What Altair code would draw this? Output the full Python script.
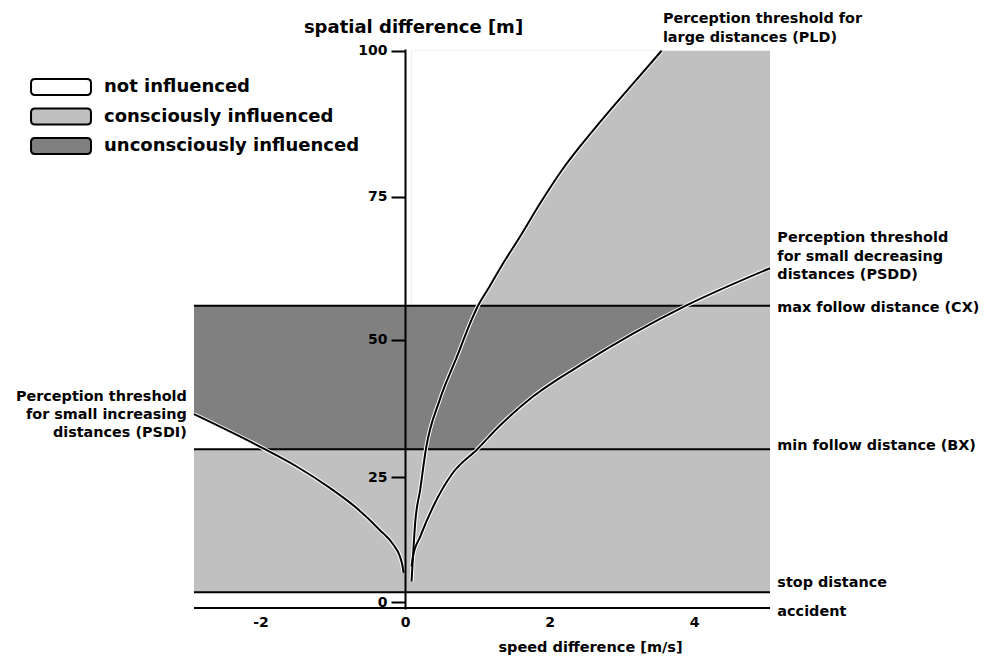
import altair as alt
import pandas as pd

# ---- values (x: speed difference [m/s], y: spatial difference [m]) ----
X_MIN, X_MAX = -2.92, 5.05
Y_MIN, Y_MAX = -1.6, 100.3

CX = 56.0        # max follow distance
BX = 30.2        # min follow distance
STOP = 2.4       # stop distance
ACCIDENT = -1.4  # accident
TOP = 100.0

pld_x = [0.09, 0.11, 0.14, 0.21, 0.29, 0.48, 0.72, 0.92, 1.01, 1.17, 1.36, 1.59, 1.87, 2.17, 2.64, 3.11, 3.55]
pld_y = [4.7, 9.8, 16.3, 22.7, 30.3, 39.2, 47.0, 53.5, 56.0, 59.4, 63.5, 68.1, 73.9, 79.6, 87.0, 93.8, 100.0]

psdd_x = [0.09, 0.11, 0.21, 0.39, 0.65, 1.00, 1.31, 1.77, 2.47, 3.16, 3.90, 5.05]
psdd_y = [7.8, 9.8, 13.7, 19.5, 25.6, 30.2, 34.5, 39.8, 45.8, 51.1, 56.1, 62.6]

psdi_x = [-2.92, -1.94, -1.50, -1.04, -0.67, -0.35, -0.16, -0.07, -0.03, -0.02]
psdi_y = [36.6, 30.2, 27.0, 23.0, 19.2, 15.0, 12.1, 9.8, 7.5, 6.5]

categories = ["not influenced", "consciously influenced", "unconsciously influenced"]
cat_colors = ["#ffffff", "#c0c0c0", "#808080"]
NOT, CON, UNC = categories

x_ticks = [-2, 0, 2, 4]
y_ticks = [0, 25, 50, 75, 100]

line_names = ["max follow distance (CX)", "min follow distance (BX)", "stop distance", "accident"]
line_values = [CX, BX, STOP, ACCIDENT]

right_texts = [
    ["Perception threshold for", "large distances (PLD)"],
    ["Perception threshold", "for small decreasing", "distances (PSDD)"],
    ["max follow distance (CX)"],
    ["min follow distance (BX)"],
    ["stop distance"],
    ["accident"],
]
right_text_x = [3.568, 5.152, 5.152, 5.152, 5.152, 5.152]
right_text_y = [105.3, 67.8, 55.6, 30.7, 4.4, -2.35]

left_texts = [["Perception threshold", "for small increasing", "distances (PSDI)"]]
left_text_x = [-3.02]
left_text_y = [39.8]

# ---- region tables (painted in order, later ones on top) ----
def region(name, cat, xs, lo, hi):
    n = len(xs)
    lo = lo if isinstance(lo, list) else [lo] * n
    hi = hi if isinstance(hi, list) else [hi] * n
    return pd.DataFrame({"region": name, "cat": cat, "x": xs, "lo": lo, "hi": hi})

n_dark = sum(1 for v in psdd_x if v <= 3.9)  # PSDD part that lies below CX

paint_steps = [
    pd.concat([
        region("upper_right", CON, [pld_x[0], X_MAX], CX, TOP),
        region("left_band", UNC, [X_MIN, 0.0], BX, CX),
    ], ignore_index=True),
    pd.concat([
        region("left_of_pld", NOT, pld_x, pld_y, TOP),
        region("below_psdi", NOT, psdi_x, BX, psdi_y),
    ], ignore_index=True),
    pd.concat([
        region("right_low", CON, [0.0, X_MAX], STOP, CX),
        region("left_low", CON, [X_MIN, 0.0], STOP, BX),
    ], ignore_index=True),
    pd.concat([
        region("right_band", UNC, [0.0, 1.0], BX, CX),
        region("above_psdd", UNC, psdd_x[:n_dark], psdd_y[:n_dark], CX),
    ], ignore_index=True),
    region("right_bottom", CON, [0.0, X_MAX], STOP, BX),
]

curves = pd.concat([
    pd.DataFrame({"curve": "PLD", "x": pld_x, "y": pld_y}),
    pd.DataFrame({"curve": "PSDD", "x": psdd_x, "y": psdd_y}),
    pd.DataFrame({"curve": "PSDI", "x": psdi_x, "y": psdi_y}),
], ignore_index=True)

rules = pd.DataFrame({"name": line_names, "y": line_values, "x": X_MIN, "x2": X_MAX})
rtext = pd.DataFrame({"lines": right_texts, "x": right_text_x, "y": right_text_y})
ltext = pd.DataFrame({"lines": left_texts, "x": left_text_x, "y": left_text_y})

FONT = "DejaVu Sans"

x_scale = alt.Scale(domain=[X_MIN, X_MAX], nice=False, zero=False)
y_scale = alt.Scale(type="pow", exponent=1.07, domain=[Y_MIN, Y_MAX], nice=False, zero=False)

x_axis = alt.Axis(
    values=x_ticks, domain=False, ticks=False, grid=False,
    labelFontSize=14, labelFontWeight="bold", labelColor="black", labelPadding=6,
    title="speed difference [m/s]", titleFontSize=14.5, titleFontWeight="bold",
    titleColor="black", titleX=396, titleY=38, titleBaseline="middle", titleAlign="center",
)
y_axis = alt.Axis(
    values=y_ticks, offset=-211, grid=False, zindex=1,
    domainColor="black", domainWidth=2, tickColor="black", tickWidth=2, tickSize=14,
    labelFontSize=14, labelFontWeight="bold", labelColor="black", labelPadding=4,
    title="spatial difference [m]", titleAngle=0, titleX=8, titleY=-22,
    titleAlign="center", titleBaseline="middle", titleFontSize=18, titleFontWeight="bold",
    titleColor="black",
)

X = alt.X("x:Q", scale=x_scale, axis=x_axis)

RR = ("M -2.88 -0.9 L 2.88 -0.9 Q 3.33 -0.9 3.33 -0.45 L 3.33 0.45 Q 3.33 0.9 2.88 0.9 "
      "L -2.88 0.9 Q -3.33 0.9 -3.33 0.45 L -3.33 -0.45 Q -3.33 -0.9 -2.88 -0.9 Z")

legend = alt.Legend(
    title=None, orient="none", legendX=-143, legendY=28, padding=0,
    symbolType=RR, symbolSize=324, symbolStrokeColor="black", symbolStrokeWidth=2,
    symbolOpacity=1, labelFontSize=18, labelFontWeight="bold", labelColor="black",
    labelOffset=33, labelLimit=500, rowPadding=3.5,
)
color = alt.Color("cat:N", scale=alt.Scale(domain=categories, range=cat_colors), legend=legend)

area_layers = [
    alt.Chart(df).mark_area(opacity=1, interpolate="monotone").encode(
        x=X,
        y=alt.Y("hi:Q", scale=y_scale, axis=y_axis, stack=None),
        y2="lo:Q",
        color=color,
        detail="region:N",
    )
    for df in paint_steps
]

rule_layer = alt.Chart(rules).mark_rule(color="black", strokeWidth=2).encode(
    x=X,
    x2="x2:Q",
    y=alt.Y("y:Q", scale=y_scale, axis=y_axis),
)

halo_layer = alt.Chart(curves).mark_line(color="white", strokeWidth=4, interpolate="monotone").encode(
    x=X,
    y=alt.Y("y:Q", scale=y_scale, axis=y_axis),
    detail="curve:N",
)
curve_layer = alt.Chart(curves).mark_line(color="black", strokeWidth=2, interpolate="monotone").encode(
    x=X,
    y=alt.Y("y:Q", scale=y_scale, axis=y_axis),
    detail="curve:N",
)

rtext_layer = alt.Chart(rtext).mark_text(
    align="left", baseline="middle", font=FONT, fontSize=14.4, fontWeight="bold",
    color="black", lineHeight=18.3,
).encode(
    x=X,
    y=alt.Y("y:Q", scale=y_scale, axis=y_axis),
    text="lines",
)
ltext_layer = alt.Chart(ltext).mark_text(
    align="right", baseline="middle", font=FONT, fontSize=14.4, fontWeight="bold",
    color="black", lineHeight=18.3,
).encode(
    x=X,
    y=alt.Y("y:Q", scale=y_scale, axis=y_axis),
    text="lines",
)

chart = alt.layer(
    *area_layers, rule_layer, halo_layer, curve_layer, rtext_layer, ltext_layer
).properties(
    width=576, height=560,
    autosize=alt.AutoSizeParams(type="none"),
    padding={"left": 186, "top": 41, "right": 211, "bottom": 47},
).configure(
    font=FONT,
    locale={"number": {"decimal": ".", "thousands": ",", "grouping": [3],
                       "currency": ["$", ""], "minus": "-"}},
).configure_view(strokeWidth=0)

chart.save("out.html", embed_options={"renderer": "svg", "actions": False})
